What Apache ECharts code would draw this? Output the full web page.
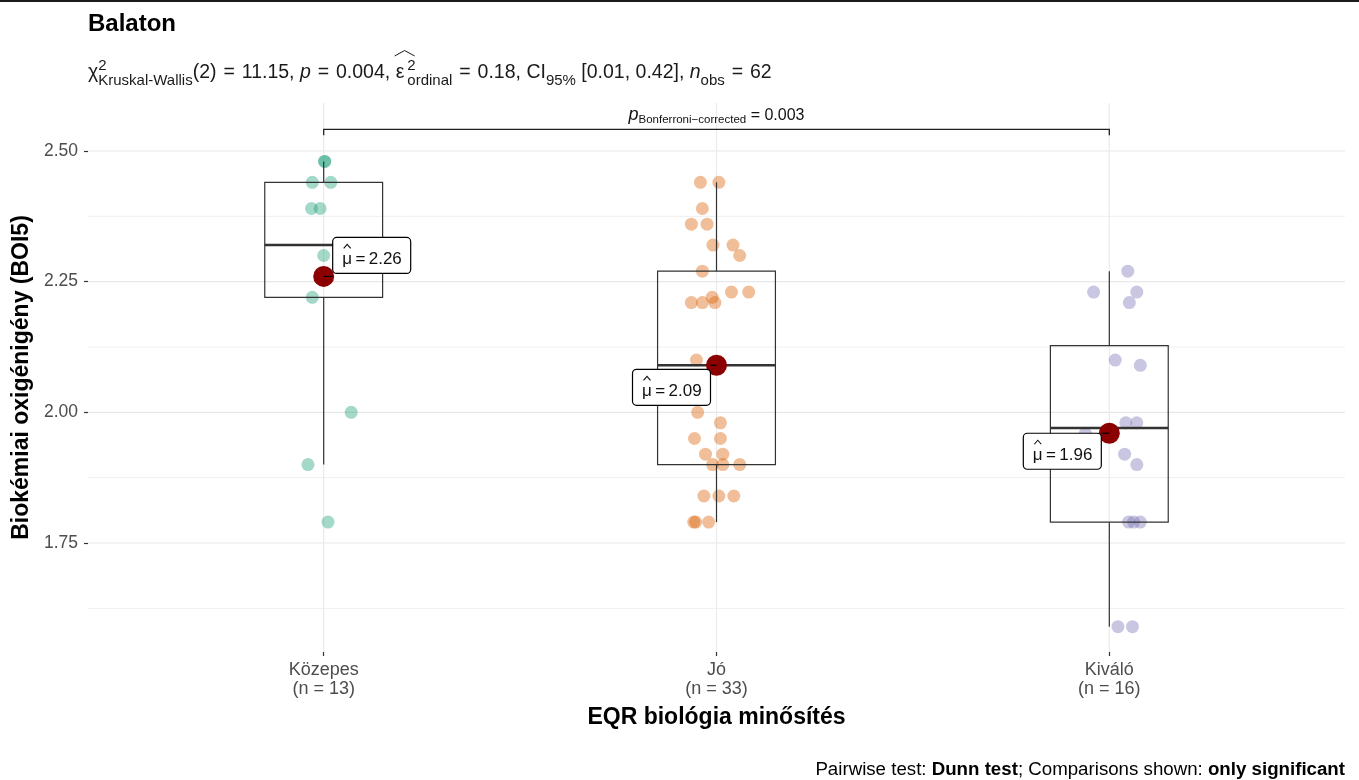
<!DOCTYPE html>
<html>
<head>
<meta charset="utf-8">
<title>Balaton</title>
<script src="https://cdn.jsdelivr.net/npm/echarts@6/dist/echarts.min.js"></script>
<style>
  html, body { margin: 0; padding: 0; background: #ffffff; }
  #chart { width: 1359px; height: 780px; }
</style>
</head>
<body>
<div id="chart"></div>
<script>
// ---- data -------------------------------------------------------------
const categories = ['Közepes', 'Jó', 'Kiváló'];
const groupSizes = [13, 33, 16];

// observations per group (BOI5, mg/l)
const kozepesValues = [1.79, 1.90, 2.00, 2.22, 2.26, 2.30, 2.32, 2.39, 2.39, 2.44, 2.44, 2.48, 2.48];
const joValues = [1.79, 1.79, 1.79, 1.84, 1.84, 1.84, 1.90, 1.90, 1.90, 1.92, 1.92, 1.95, 1.95,
                  1.98, 2.00, 2.05, 2.09, 2.10, 2.21, 2.21, 2.21, 2.22, 2.23, 2.23, 2.27, 2.30,
                  2.32, 2.32, 2.36, 2.36, 2.39, 2.44, 2.44];
const kivaloValues = [1.59, 1.59, 1.79, 1.79, 1.79, 1.90, 1.92, 1.96, 1.98, 1.98, 2.09, 2.10,
                      2.21, 2.23, 2.23, 2.27];

// horizontal jitter of each observation (category units)
const kozepesJitter = [0.011, -0.040, 0.070, -0.029, 0.000, 0.000, 0.056, -0.031, -0.009, -0.029, 0.018, 0.003, 0.002];
const joJitter = [-0.058, -0.053, -0.020, -0.032, 0.006, 0.044, -0.010, 0.016, 0.059, -0.028, 0.016, -0.056, 0.010,
                  0.010, -0.048, -0.066, 0.000, -0.051, -0.064, -0.036, -0.004, -0.011, 0.038, 0.082, -0.036, 0.059,
                  -0.009, 0.042, -0.064, -0.024, -0.036, -0.041, 0.006];
const kivaloJitter = [0.022, 0.059, 0.049, 0.062, 0.079, 0.070, 0.039, -0.061, 0.042, 0.070, 0.079, 0.015,
                      0.051, -0.040, 0.070, 0.047];

const groupMeans = [2.26, 2.09, 1.96];

const yTickValues = [1.75, 2.00, 2.25, 2.50];
const yMinorGrid = [1.625, 1.875, 2.125, 2.375];
const yLimits = [1.5415, 2.5918];
const xLimits = [0.4, 3.6];

// pairwise comparison shown on the bracket
const bracketGroups = [1, 3];
const bracketLevel = 2.5415;
const bracketTickEnd = 2.530;
const bracketPValue = '0.003';

// Kruskal-Wallis summary
const statDf = '2';
const statChi = '11.15';
const statP = '0.004';
const statEps = '0.18';
const statCi = ['0.01', '0.42'];
const statN = '62';

// ---- helpers ----------------------------------------------------------
const groupColors = ['#1B9E77', '#D95F02', '#7570B3'];
const FONT = '"Liberation Sans", Arial, sans-serif';

function quantile7(sorted, p) {
  const h = (sorted.length - 1) * p;
  const lo = Math.floor(h), hi = Math.ceil(h);
  return sorted[lo] + (h - lo) * (sorted[hi] - sorted[lo]);
}
function boxStats(values) {
  const s = values.slice().sort((a, b) => a - b);
  const q1 = quantile7(s, 0.25), med = quantile7(s, 0.5), q3 = quantile7(s, 0.75);
  const iqr = q3 - q1;
  const lowFence = q1 - 1.5 * iqr, highFence = q3 + 1.5 * iqr;
  const lowW = Math.min(...s.filter(v => v >= lowFence - 1e-9));
  const highW = Math.max(...s.filter(v => v <= highFence + 1e-9));
  return [q1, med, q3, lowW, highW];
}

const measureCtx = document.createElement('canvas').getContext('2d');
function textWidth(str, size, style) {
  measureCtx.font = (style || 'normal') + ' normal ' + size + 'px ' + FONT;
  return measureCtx.measureText(str).width;
}

const groupValues = [kozepesValues, joValues, kivaloValues];
const groupJitter = [kozepesJitter, joJitter, kivaloJitter];
const boxData = groupValues.map((vals, i) => [i + 1].concat(boxStats(vals)));

// label box offsets from each mean marker, in pixels
const meanLabelOffsets = [[48, -21], [-45, 22], [-47, 18]];

// ---- subtitle (plotmath-like rich text) -------------------------------
const SUB_MAIN = 19.5, SUB_SMALL = 15, EQ_PAD = 1.5, EPS_PAD = 3;
const SUB_LEFT = 88, SUB_TOP = 58, SUB_LINE = 30;
const txt = { fontSize: SUB_MAIN, fontFamily: FONT, fontWeight: 'normal', color: '#1a1a1a', lineHeight: SUB_LINE };
const subtitleRich = {
  n: txt,
  eq: Object.assign({}, txt, { padding: [0, EQ_PAD, 0, EQ_PAD] }),
  eps: Object.assign({}, txt, { padding: [0, EPS_PAD, 0, 0] }),
  it: Object.assign({}, txt, { fontStyle: 'italic' }),
  sup: { fontSize: SUB_SMALL, fontFamily: FONT, fontWeight: 'normal', color: '#1a1a1a', lineHeight: 12, verticalAlign: 'top', width: 0.01 },
  sub: { fontSize: SUB_SMALL, fontFamily: FONT, fontWeight: 'normal', color: '#1a1a1a', lineHeight: 12, verticalAlign: 'bottom' }
};
const subtitleText =
  '{n|\u03C7}{sup|2}{sub|Kruskal-Wallis}{n|(' + statDf + ')}{eq| = }{n|' + statChi + ', }' +
  '{it|p}{eq| = }{n|' + statP + ', }' +
  '{eps|\u03B5}{sup|2}{sub|ordinal}{eq| = }{n|' + statEps + ', CI}{sub|95%}' +
  '{n| [' + statCi[0] + ', ' + statCi[1] + '], }{it|n}{sub|obs}{eq| = }{n|' + statN + '}';

// x position of epsilon, for its hat
const epsX = SUB_LEFT +
  textWidth('\u03C7', SUB_MAIN) + textWidth('Kruskal-Wallis', SUB_SMALL) +
  textWidth('(' + statDf + ')', SUB_MAIN) + 2 * (textWidth(' = ', SUB_MAIN) + 2 * EQ_PAD) +
  textWidth(statChi + ', ', SUB_MAIN) + textWidth('p', SUB_MAIN, 'italic') +
  textWidth(statP + ', ', SUB_MAIN) + 0.02;

const chart = echarts.init(document.getElementById('chart'), null, { renderer: 'canvas' });

function hLineSeries(values, color, width) {
  return {
    type: 'custom', z: 0, silent: true, clip: false,
    data: values.map(v => [xLimits[0], v]),
    renderItem(params, api) {
      const a = api.coord([xLimits[0], api.value(1)]);
      const b = api.coord([xLimits[1], api.value(1)]);
      return { type: 'line', shape: { x1: a[0], y1: a[1], x2: b[0], y2: b[1] },
               style: { stroke: color, lineWidth: width } };
    }
  };
}

const pointSeries = groupValues.map((vals, g) => ({
  type: 'scatter', z: 2, silent: true,
  symbolSize: 13,
  itemStyle: { color: groupColors[g], opacity: 0.4 },
  data: vals.map((v, i) => [g + 1 + groupJitter[g][i], v])
}));

const option = {
  backgroundColor: '#ffffff',
  animation: false,
  title: [
    { text: 'Balaton', left: 88, top: 12, padding: 0,
      textStyle: { fontFamily: FONT, fontWeight: 'bold', fontSize: 24, color: '#000' } },
    { text: subtitleText, left: SUB_LEFT, top: SUB_TOP, padding: 0,
      textStyle: { fontWeight: 'normal', rich: subtitleRich } }
  ],
  graphic: [
    { type: 'rect', left: 0, top: 0, shape: { width: 1359, height: 2 }, style: { fill: '#1a1a1a' } },
    { type: 'polyline', silent: true,
      shape: { points: [[epsX - 1, SUB_TOP - 2], [epsX + 9, SUB_TOP - 7.5], [epsX + 19, SUB_TOP - 2]] },
      style: { stroke: '#1a1a1a', lineWidth: 1, fill: null } },
    { type: 'text', right: 14, top: 760,
      style: {
        text: '{n|Pairwise test: }{b|Dunn test}{n|; Comparisons shown: }{b|only significant}',
        rich: {
          n: { fontSize: 18.7, fontFamily: FONT, color: '#000' },
          b: { fontSize: 18.7, fontFamily: FONT, fontWeight: 'bold', color: '#000' }
        }
      } }
  ],
  grid: { left: 88, right: 14, top: 103, bottom: 128, containLabel: false },
  xAxis: {
    type: 'value', min: xLimits[0], max: xLimits[1],
    name: 'EQR biológia minősítés', nameLocation: 'middle', nameGap: 54,
    nameTextStyle: { fontFamily: FONT, fontWeight: 'bold', fontSize: 23, color: '#000' },
    axisLine: { show: false },
    axisTick: { show: true, length: 4, customValues: [1, 2, 3], lineStyle: { color: '#333', width: 1.2 } },
    axisLabel: {
      customValues: [1, 2, 3], margin: 9,
      fontFamily: FONT, fontSize: 18, lineHeight: 19, color: '#4D4D4D',
      formatter: v => categories[Math.round(v) - 1] + '\n(n = ' + groupSizes[Math.round(v) - 1] + ')'
    },
    splitLine: { show: false }
  },
  yAxis: {
    type: 'value', min: yLimits[0], max: yLimits[1],
    name: 'Biokémiai oxigénigény (BOI5)', nameLocation: 'middle', nameGap: 52,
    nameTextStyle: { fontFamily: FONT, fontWeight: 'bold', fontSize: 23, color: '#000' },
    axisLine: { show: false },
    axisTick: { show: true, length: 4, customValues: yTickValues, lineStyle: { color: '#333', width: 1.2 } },
    axisLabel: {
      customValues: yTickValues, margin: 10,
      fontFamily: FONT, fontSize: 17.5, color: '#4D4D4D',
      formatter: v => v.toFixed(2)
    },
    splitLine: { show: false }
  },
  series: [
    hLineSeries(yMinorGrid, '#EFEFEF', 1),
    hLineSeries(yTickValues, '#E8E8E8', 1.2),
    {
      type: 'custom', z: 0, silent: true,
      data: categories.map((c, i) => [i + 1, yLimits[0]]),
      renderItem(params, api) {
        const a = api.coord([api.value(0), yLimits[0]]);
        const b = api.coord([api.value(0), yLimits[1]]);
        return { type: 'line', shape: { x1: a[0], y1: a[1], x2: b[0], y2: b[1] },
                 style: { stroke: '#EBEBEB', lineWidth: 1.2 } };
      }
    },
    ...pointSeries,
    {
      // boxes and whiskers
      type: 'custom', z: 3, silent: true,
      data: boxData,
      renderItem(params, api) {
        const x = api.value(0);
        const q1 = api.value(1), med = api.value(2), q3 = api.value(3);
        const lo = api.value(4), hi = api.value(5);
        const hw = 0.15;
        const tl = api.coord([x - hw, q3]);
        const br = api.coord([x + hw, q1]);
        const ml = api.coord([x - hw, med]);
        const mr = api.coord([x + hw, med]);
        const wLo = api.coord([x, lo]), wQ1 = api.coord([x, q1]);
        const wHi = api.coord([x, hi]), wQ3 = api.coord([x, q3]);
        const stroke = '#333333';
        return {
          type: 'group',
          children: [
            { type: 'line', shape: { x1: wLo[0], y1: wLo[1], x2: wQ1[0], y2: wQ1[1] }, style: { stroke, lineWidth: 1.2 } },
            { type: 'line', shape: { x1: wHi[0], y1: wHi[1], x2: wQ3[0], y2: wQ3[1] }, style: { stroke, lineWidth: 1.2 } },
            { type: 'rect', shape: { x: tl[0], y: tl[1], width: br[0] - tl[0], height: br[1] - tl[1] },
              style: { fill: 'rgba(255,255,255,0)', stroke, lineWidth: 1.2 } },
            { type: 'line', shape: { x1: ml[0], y1: ml[1], x2: mr[0], y2: mr[1] }, style: { stroke, lineWidth: 2.6 } }
          ]
        };
      }
    },
    {
      // group means with their labels
      type: 'custom', z: 5, silent: true, clip: false,
      data: groupMeans.map((m, i) => [i + 1, m]),
      renderItem(params, api) {
        const idx = params.dataIndex;
        const c = api.coord([api.value(0), api.value(1)]);
        const off = meanLabelOffsets[idx];
        const bw = 78, bh = 36;
        const bx = c[0] + off[0] - bw / 2, by = c[1] + off[1] - bh / 2;
        const edgeX = off[0] > 0 ? bx : bx + bw;
        const tx = bx + 9.5, ty = by + bh / 2 + 4;
        return {
          type: 'group',
          children: [
            { type: 'circle', shape: { cx: c[0], cy: c[1], r: 10.5 }, style: { fill: '#8B0000' } },
            { type: 'line', shape: { x1: c[0], y1: c[1], x2: edgeX, y2: c[1] }, style: { stroke: '#000', lineWidth: 1.2 } },
            { type: 'rect', shape: { x: bx, y: by, width: bw, height: bh, r: 4 },
              style: { fill: '#ffffff', stroke: '#000', lineWidth: 1.2 } },
            { type: 'polyline', shape: { points: [[tx + 1.5, ty - 11], [tx + 5, ty - 15], [tx + 8.5, ty - 11]] },
              style: { stroke: '#111', lineWidth: 1.1, fill: null } },
            { type: 'text', x: tx, y: ty,
              style: { text: '\u03BC\u2009=\u2009' + groupMeans[idx].toFixed(2), font: '17px ' + FONT,
                       fill: '#111', align: 'left', verticalAlign: 'middle' } }
          ]
        };
      }
    },
    {
      // significance bracket
      type: 'custom', z: 4, silent: true, clip: false,
      data: [[bracketGroups[0], bracketGroups[1], bracketLevel, bracketTickEnd]],
      renderItem(params, api) {
        const a0 = api.coord([api.value(0), api.value(3)]);
        const a1 = api.coord([api.value(0), api.value(2)]);
        const b1 = api.coord([api.value(1), api.value(2)]);
        const b0 = api.coord([api.value(1), api.value(3)]);
        const mid = (a1[0] + b1[0]) / 2;
        return {
          type: 'group',
          children: [
            { type: 'polyline', shape: { points: [a0, a1, b1, b0] }, style: { stroke: '#222', lineWidth: 1.3, fill: null } },
            { type: 'text', x: mid, y: a1[1] - 14,
              style: {
                text: '{p|p}{s|Bonferroni\u2212corrected}{v| = ' + bracketPValue + '}',
                align: 'center', verticalAlign: 'middle',
                rich: {
                  p: { fontSize: 18, fontFamily: FONT, fontStyle: 'italic', fill: '#111', lineHeight: 22 },
                  s: { fontSize: 11.5, fontFamily: FONT, fill: '#111', lineHeight: 10, verticalAlign: 'bottom' },
                  v: { fontSize: 16, fontFamily: FONT, fill: '#111', lineHeight: 22 }
                }
              } }
          ]
        };
      }
    }
  ]
};

chart.setOption(option);
</script>
</body>
</html>
